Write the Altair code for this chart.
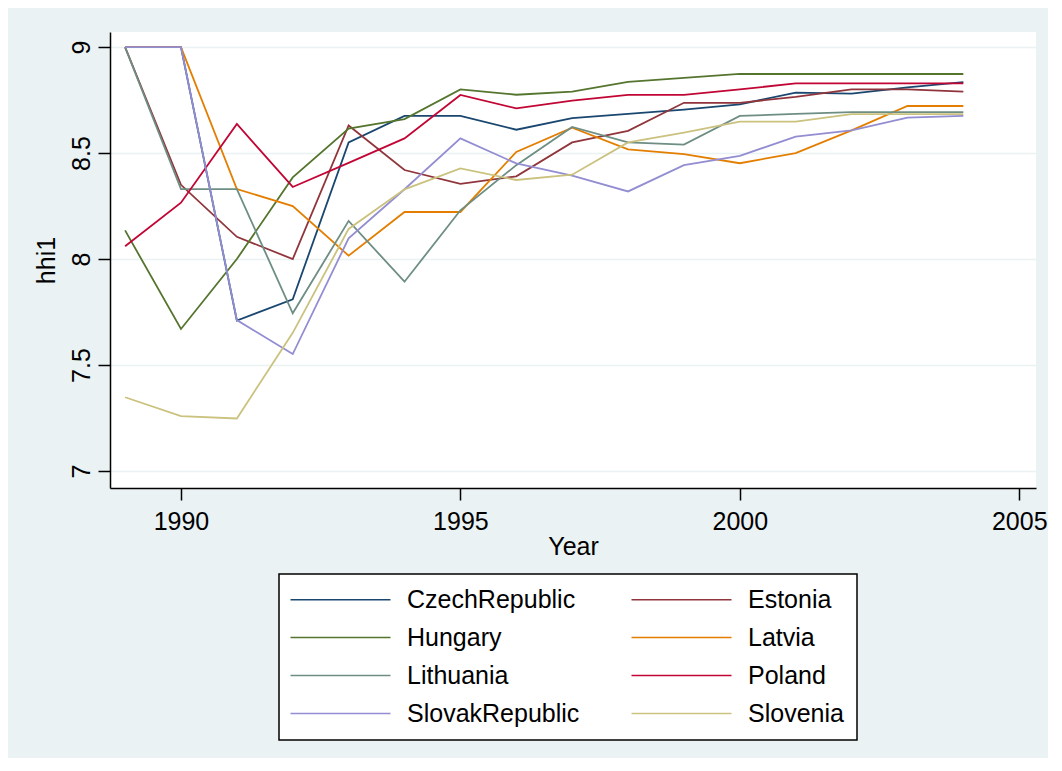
import altair as alt
import pandas as pd

years = list(range(1989, 2005))
countries = ["CzechRepublic", "Estonia", "Hungary", "Latvia",
             "Lithuania", "Poland", "SlovakRepublic", "Slovenia"]
colors = ["#1A476F", "#90353B", "#55752F", "#E37E00",
          "#6E8E84", "#C10534", "#938DD2", "#CAC27E"]

czech = [9, 9, 7.71, 7.81, 8.55, 8.675, 8.675, 8.61, 8.665, 8.685, 8.705, 8.73, 8.785, 8.78, 8.81, 8.835]
estonia = [9, 8.35, 8.105, 8.0, 8.63, 8.42, 8.355, 8.39, 8.55, 8.605, 8.737, 8.737, 8.765, 8.80, 8.80, 8.79]
hungary = [8.135, 7.67, 8.0, 8.385, 8.615, 8.66, 8.80, 8.775, 8.79, 8.836, 8.855, 8.873, 8.873, 8.873, 8.873, 8.873]
latvia = [9, 9, 8.33, 8.25, 8.016, 8.222, 8.222, 8.505, 8.62, 8.517, 8.495, 8.452, 8.50, 8.607, 8.722, 8.722]
lithuania = [9, 8.33, 8.33, 7.744, 8.18, 7.893, 8.23, 8.443, 8.623, 8.55, 8.54, 8.675, 8.685, 8.693, 8.693, 8.693]
poland = [8.06, 8.266, 8.637, 8.34, 8.454, 8.569, 8.774, 8.711, 8.747, 8.774, 8.774, 8.80, 8.829, 8.829, 8.829, 8.829]
slovak = [9, 9, 7.712, 7.552, 8.098, 8.329, 8.569, 8.451, 8.393, 8.319, 8.443, 8.487, 8.577, 8.607, 8.667, 8.675]
slovenia = [7.348, 7.259, 7.248, 7.652, 8.142, 8.329, 8.428, 8.373, 8.398, 8.55, 8.596, 8.648, 8.648, 8.684, 8.684, 8.684]

series = [czech, estonia, hungary, latvia, lithuania, poland, slovak, slovenia]

rows = []
for name, vals in zip(countries, series):
    for yr, v in zip(years, vals):
        rows.append({"Year": yr, "hhi1": v, "country": name})
df = pd.DataFrame(rows)

FONT = "Liberation Sans"

chart = alt.Chart(df).mark_line(strokeWidth=1.8).encode(
    x=alt.X("Year:Q",
            scale=alt.Scale(domain=[1988.73, 2005.3], nice=False, zero=False),
            axis=alt.Axis(values=[1990, 1995, 2000, 2005], format="d",
                          grid=False, tickSize=12, labelPadding=9,
                          titlePadding=0, labelFontSize=25, titleFontSize=25)),
    y=alt.Y("hhi1:Q",
            scale=alt.Scale(domain=[6.92, 9.071], nice=False, zero=False),
            axis=alt.Axis(values=[7, 7.5, 8, 8.5, 9], format="~g",
                          grid=True, gridColor="#EAF2F3", gridWidth=1.5,
                          tickSize=12, labelAngle=270, labelAlign="center",
                          labelBaseline="alphabetic", labelPadding=9,
                          titlePadding=10, labelFontSize=25, titleFontSize=25)),
    color=alt.Color("country:N",
                    scale=alt.Scale(domain=countries, range=colors),
                    legend=alt.Legend(title=None, orient="none",
                                      legendX=169, legendY=542,
                                      columns=2, direction="horizontal",
                                      symbolType="M-5,0H5",
                                      symbolSize=400, symbolStrokeWidth=1.5,
                                      symbolOffset=36,
                                      labelFontSize=25, labelOffset=54,
                                      labelLimit=400,
                                      columnPadding=48, rowPadding=12,
                                      padding=13, fillColor="white",
                                      strokeColor="black")),
).properties(
    width=926, height=456,
    autosize=alt.AutoSizeParams(type="none"),
    padding={"left": 102, "top": 24, "right": 12, "bottom": 270},
    background="#EAF2F3",
).configure_view(
    fill="white", stroke=None
).configure_axis(
    domainColor="black", domainWidth=1.5, tickColor="black", tickWidth=1.5,
    labelColor="black", titleColor="black", labelFont=FONT, titleFont=FONT,
    titleFontWeight="normal"
).configure_legend(
    labelFont=FONT, labelColor="black", strokeWidth=1.5
)

chart.save("out.html", embed_options={"renderer": "svg", "actions": False})
